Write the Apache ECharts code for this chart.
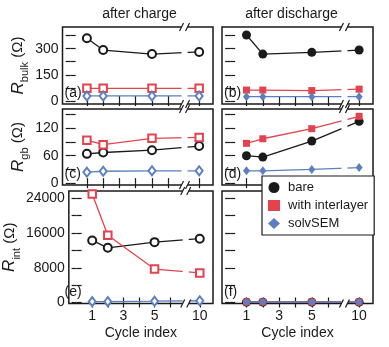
<!DOCTYPE html>
<html>
<head>
<meta charset="utf-8">
<script src="https://cdn.jsdelivr.net/npm/echarts@6/dist/echarts.min.js"></script>
<style>
  html, body { margin: 0; padding: 0; background: #fff; }
  #chart { width: 389px; height: 347px; }
</style>
</head>
<body>
<div id="chart"></div>
<script>
// Cycle numbers at which impedance was measured
const cycles = [1, 2, 5, 10];
const xTickCycles = [1, 2, 3, 4, 5, 6, 10];
const xLabelCycles = [1, 3, 5, 10];

// R_bulk (Ω)
const bulkChargeBare = [360, 292, 269, 281];
const bulkChargeInter = [73, 73, 73, 73];
const bulkChargeSolv = [29, 29, 29, 29];
const bulkDischargeBare = [378, 269, 279, 292];
const bulkDischargeInter = [63, 63, 60, 68];
const bulkDischargeSolv = [25, 25, 25, 25];

// R_gb (Ω)
const gbChargeBare = [64, 67, 72, 81];
const gbChargeInter = [94, 84, 98, 100];
const gbChargeSolv = [24, 26, 27, 27];
const gbDischargeBare = [60, 57, 92, 135];
const gbDischargeInter = [87, 97, 119, 146];
const gbDischargeSolv = [27, 27, 30, 34];

// R_int (Ω)
const intChargeBare = [14300, 12600, 13900, 14700];
const intChargeInter = [25000, 15500, 7700, 6800];
const intChargeSolv = [200, 200, 300, 400];
const intDischargeBare = [80, 80, 80, 80];
const intDischargeInter = [120, 120, 120, 120];
const intDischargeSolv = [120, 120, 120, 120];

// y tick values per row
const bulkTicks = [0, 75, 150, 225, 300, 375];
const bulkLabels = [0, 150, 300];
const gbTicks = [0, 30, 60, 90, 120, 150];
const gbLabels = [0, 60, 120];
const intTicks = [0, 4000, 8000, 12000, 16000, 20000, 24000];
const intLabels = [0, 8000, 16000, 24000];

const columnTitles = ['after charge', 'after discharge'];
const panelTags = ['(a)', '(b)', '(c)', '(d)', '(e)', '(f)'];
const seriesNames = ['bare', 'with interlayer', 'solvSEM'];

// Broken x axis: cycle 10 sits just past the break
const BREAK_AT = 7.0;
const TEN_POS = 7.9;
const axisPos = c => (c === 10 ? TEN_POS : c);
const axisCycle = v => (Math.abs(v - TEN_POS) < 1e-6 ? 10 : v);

const BLACK = '#1a1a1a';
const RED = '#e2434f';
const BLUE = '#5b7fc0';
const FONT = 'Liberation Sans, Arial, sans-serif';

const cols = [{ left: 62.5, width: 150.5 }, { left: 222, width: 151 }];
const rows = [
  { top: 27, height: 77, min: -17, max: 424, ticks: bulkTicks, labels: bulkLabels, sub: 'bulk', gap: 36 },
  { top: 109, height: 76, min: -4, max: 162, ticks: gbTicks, labels: gbLabels, sub: 'gb', gap: 36 },
  { top: 191, height: 112.5, min: -230, max: 25680, ticks: intTicks, labels: intLabels, sub: 'int', gap: 46 }
];
const panelData = [
  [bulkChargeBare, bulkChargeInter, bulkChargeSolv],
  [bulkDischargeBare, bulkDischargeInter, bulkDischargeSolv],
  [gbChargeBare, gbChargeInter, gbChargeSolv],
  [gbDischargeBare, gbDischargeInter, gbDischargeSolv],
  [intChargeBare, intChargeInter, intChargeSolv],
  [intDischargeBare, intDischargeInter, intDischargeSolv]
];

const grids = [], xAxes = [], yAxes = [], series = [];
const tickStyle = { color: BLACK, width: 1.2 };

rows.forEach((row, r) => {
  cols.forEach((col, c) => {
    const g = r * 2 + c;
    grids.push({
      left: col.left, top: row.top, width: col.width, height: row.height,
      show: true, borderColor: BLACK, borderWidth: 1.5, backgroundColor: 'transparent'
    });
    const isBottom = r === rows.length - 1;
    // bottom x axis
    xAxes.push({
      type: 'value', gridIndex: g, position: 'bottom', min: -0.5, max: 8.75,
      axisLine: { show: false }, splitLine: { show: false },
      axisTick: { show: true, inside: true, length: 5, lineStyle: tickStyle, customValues: xTickCycles.map(axisPos) },
      axisLabel: {
        show: isBottom, customValues: xLabelCycles.map(axisPos), margin: 6,
        fontSize: 14, fontFamily: FONT, color: BLACK,
        formatter: v => String(axisCycle(v))
      },
      name: isBottom ? 'Cycle index' : '', nameLocation: 'middle', nameGap: 23,
      nameTextStyle: { fontSize: 14, fontFamily: FONT, color: BLACK }
    });
    // top x axis (mirrored ticks)
    xAxes.push({
      type: 'value', gridIndex: g, position: 'top', min: -0.5, max: 8.75,
      axisLine: { show: false }, splitLine: { show: false },
      axisTick: { show: true, inside: true, length: 5, lineStyle: tickStyle, customValues: xTickCycles.map(axisPos) },
      axisLabel: { show: false }
    });
    // left y axis
    yAxes.push({
      type: 'value', gridIndex: g, position: 'left', min: row.min, max: row.max,
      axisLine: { show: false }, splitLine: { show: false },
      axisTick: { show: true, inside: true, length: 5, lineStyle: tickStyle, customValues: row.ticks },
      axisLabel: {
        show: c === 0, customValues: row.labels, margin: 4, fontSize: 14, fontFamily: FONT, color: BLACK,
        formatter: v => String(v)
      },
      name: c === 0 ? '{r|R}{s|' + row.sub + '}{u| (Ω)}' : '',
      nameLocation: 'middle', nameRotate: 90, nameGap: row.gap,
      nameTextStyle: {
        fontFamily: FONT, color: BLACK,
        rich: {
          r: { fontSize: 17, fontStyle: 'italic', fontFamily: FONT, color: BLACK },
          s: { fontSize: 11, fontFamily: FONT, color: BLACK, verticalAlign: 'bottom', lineHeight: 11, padding: [0, 0, -4, 0] },
          u: { fontSize: 15, fontFamily: FONT, color: BLACK }
        }
      }
    });
    // right y axis (mirrored ticks)
    yAxes.push({
      type: 'value', gridIndex: g, position: 'right', min: row.min, max: row.max,
      axisLine: { show: false }, splitLine: { show: false },
      axisTick: { show: true, inside: true, length: 5, lineStyle: tickStyle, customValues: row.ticks },
      axisLabel: { show: false }
    });

    const filled = c === 1;
    const marks = filled
      ? [['circle', 9], ['rect', 7], ['diamond', [7, 9]]]
      : [['emptyCircle', 8], ['emptyRect', 7.5], ['emptyDiamond', [7, 9]]];
    const colors = [BLACK, RED, BLUE];
    panelData[g].forEach((vals, k) => {
      series.push({
        type: 'line', name: seriesNames[k],
        xAxisIndex: g * 2, yAxisIndex: g * 2,
        data: cycles.map((cy, i) => [axisPos(cy), vals[i]]),
        symbol: marks[k][0], symbolSize: marks[k][1],
        lineStyle: { color: colors[k], width: 1.3 },
        itemStyle: { color: colors[k], borderWidth: 1.4 },
        emphasis: { disabled: true },
        z: 3 + k
      });
    });
  });
});

const chart = echarts.init(document.getElementById('chart'), null, { renderer: 'canvas' });
chart.setOption({
  animation: false,
  backgroundColor: '#fff',
  grid: grids,
  xAxis: xAxes,
  yAxis: yAxes,
  series: series,
  legend: {
    left: 262, top: 176, orient: 'vertical',
    padding: [5, 6, 5, 6], itemGap: 5, itemWidth: 12, itemHeight: 11,
    backgroundColor: '#fff', borderColor: BLACK, borderWidth: 1.2,
    selectedMode: false, z: 40,
    textStyle: { fontSize: 13, fontFamily: FONT, color: BLACK, padding: [0, 0, 0, 3] },
    data: [
      { name: 'bare', icon: 'circle', itemStyle: { color: BLACK, borderWidth: 0 } },
      { name: 'with interlayer', icon: 'rect', itemStyle: { color: RED, borderWidth: 0 } },
      { name: 'solvSEM', icon: 'diamond', itemStyle: { color: BLUE, borderWidth: 0 } }
    ]
  }
});

// Axis-break marks, column titles and panel tags
const graphics = [];
grids.forEach((gr, g) => {
  const bx = chart.convertToPixel({ xAxisIndex: g * 2 }, BREAK_AT);
  const top = gr.top, bottom = gr.top + gr.height;
  graphics.push({
    type: 'rect', z: 10, silent: true,
    shape: { x: bx - 3, y: top - 1, width: 6, height: gr.height + 2 },
    style: { fill: '#fff' }
  });
  [top, bottom].forEach(edge => {
    graphics.push({
      type: 'polygon', z: 11, silent: true,
      shape: { points: [[bx - 5, edge + 4], [bx - 1, edge - 4], [bx + 5, edge - 4], [bx + 1, edge + 4]] },
      style: { fill: '#fff' }
    });
    [-4, 2].forEach(dx => {
      graphics.push({
        type: 'line', z: 12, silent: true,
        shape: { x1: bx + dx - 1, y1: edge + 4, x2: bx + dx + 3, y2: edge - 4 },
        style: { stroke: BLACK, lineWidth: 1.2 }
      });
    });
  });
  graphics.push({
    type: 'text', z: 13, silent: true,
    style: {
      text: panelTags[g], x: gr.left + 2, y: bottom - 11,
      fill: BLACK, font: '14px ' + FONT, textVerticalAlign: 'middle'
    }
  });
});
const titleX = [139.5, 291.5];
columnTitles.forEach((t, c) => {
  graphics.push({
    type: 'text', z: 13, silent: true,
    style: { text: t, x: titleX[c], y: 14, fill: BLACK, font: '14px ' + FONT, textAlign: 'center', textVerticalAlign: 'middle' }
  });
});
chart.setOption({ graphic: graphics });
</script>
</body>
</html>
